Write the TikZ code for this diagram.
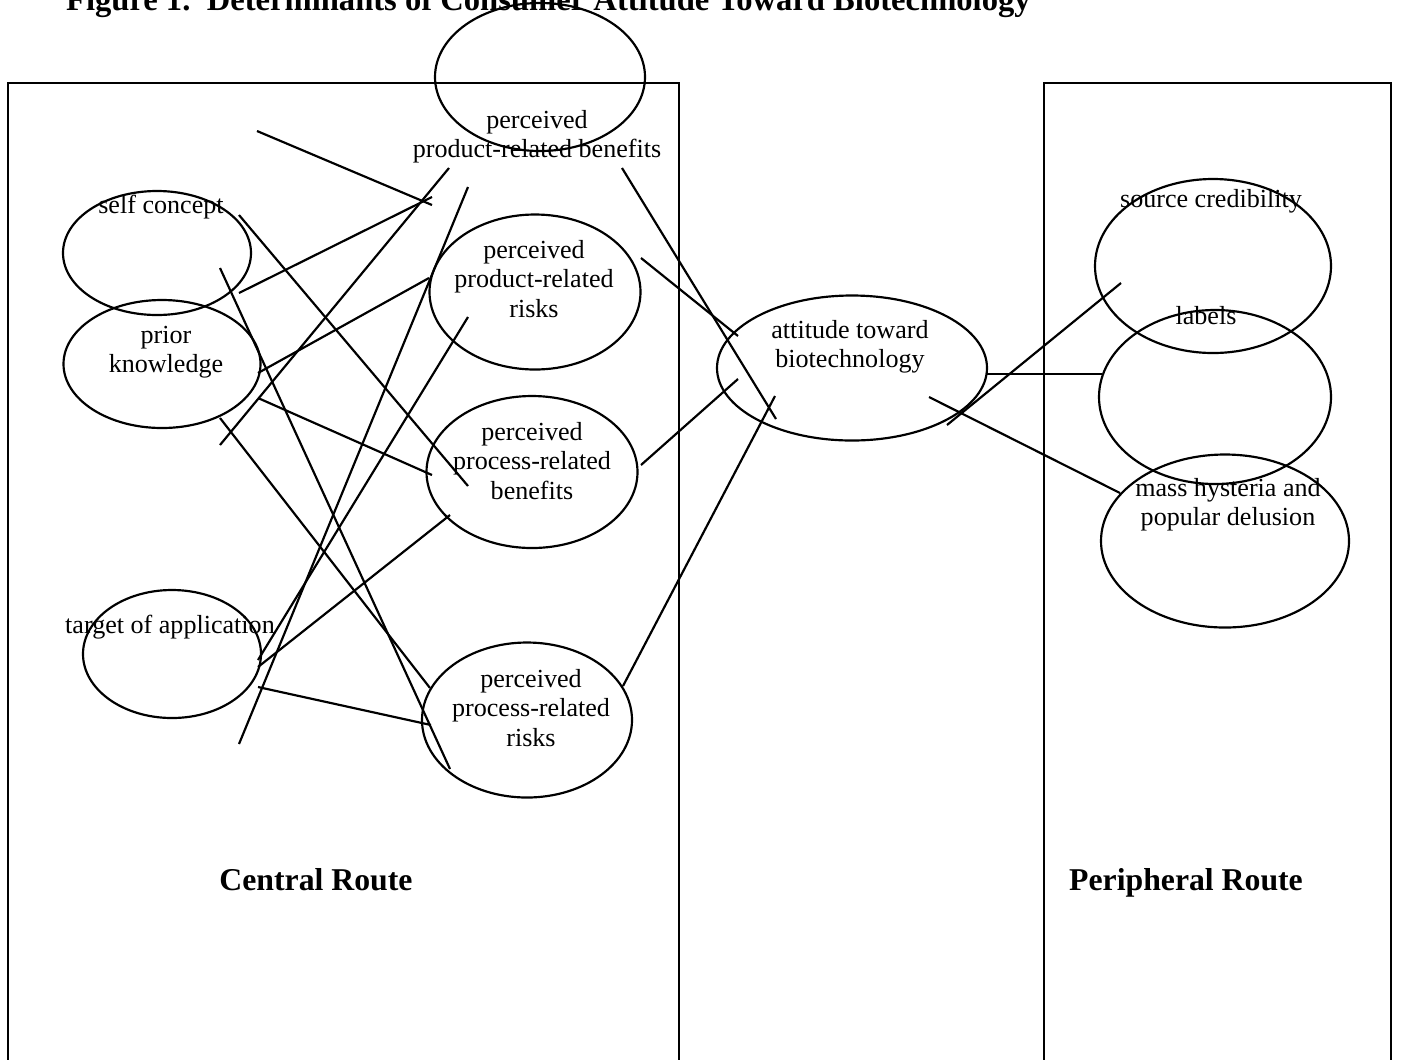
\documentclass[tikz,border=0pt]{standalone}
\usepackage{fontspec}
\setmainfont{Liberation Serif}
\usetikzlibrary{shapes.geometric}
\newcommand{\un}{0.46pt}
\tikzset{
  oval/.style 2 args={draw, ellipse, minimum width=#1*\un, minimum height=#2*\un, inner sep=0pt},
  txt/.style={align=center, font=\fontsize{12}{13.4}\selectfont, inner sep=0pt},
  head/.style={font=\fontsize{14.6}{16}\selectfont\bfseries, inner sep=0pt, anchor=base}
}

\begin{document}
\begin{tikzpicture}[x=\un, y=-\un, line width=1pt]
\useasboundingbox (0,0) rectangle (1401,1059);
\clip (0,0) rectangle (1401,1059);
\node[head, anchor=base west, font=\fontsize{15}{17}\selectfont\bfseries] (title) at (65,10) {Figure 1.\ \ Determinants of Consumer Attitude Toward Biotechnology};
% the two routes
\draw (8,1070) -- (8,83) -- (679,83) -- (679,1070);
\draw (1044,1070) -- (1044,83) -- (1391,83) -- (1391,1070);
\node[head] (central) at (316,890) {Central Route};
\node[head] (periph) at (1186,890) {Peripheral Route};
% ellipses
\node[oval={210}{148}] (pb) at (540,77) {};
\node[oval={188}{124}] (selfc) at (157,253) {};
\node[oval={197}{128}] (prior) at (162,364) {};
\node[oval={178}{128}] (ta) at (172,654) {};
\node[oval={211}{155}] (pr) at (535,292) {};
\node[oval={211}{152}] (pben) at (532,472) {};
\node[oval={210}{155}] (prisk) at (527,720) {};
\node[oval={270}{145}] (att) at (852,368) {};
\node[oval={236}{174}] (src) at (1213,266) {};
\node[oval={232}{174}] (lab) at (1215,397) {};
\node[oval={248}{173}] (mass) at (1225,541) {};
% texts
\node[txt] (pb-t) at (537,137) {perceived\\product-related benefits};
\node[txt] (selfc-t) at (161,207) {self concept};
\node[txt] (prior-t) at (166,352) {prior\\knowledge};
\node[txt] (ta-t) at (170,627) {target of application};
\node[txt] (pr-t) at (534,279) {perceived\\product-related\\risks};
\node[txt] (pben-t) at (532,461) {perceived\\process-related\\benefits};
\node[txt] (prisk-t) at (531,708) {perceived\\process-related\\risks};
\node[txt] (att-t) at (850,347) {attitude toward\\biotechnology};
\node[txt] (src-t) at (1211,201) {source credibility};
\node[txt] (lab-t) at (1206,316) {labels};
\node[txt] (mass-t) at (1228,505) {mass hysteria and\\popular delusion};
% line ends
\coordinate (f1) at (257,131);   \coordinate (pb-in1) at (432,205);
\coordinate (sc-o1) at (239,293); \coordinate (pb-in2) at (432,197);
\coordinate (sc-o2) at (239,215); \coordinate (pben-in1) at (468,486);
\coordinate (sc-o3) at (220,268); \coordinate (prisk-in1) at (450,769);
\coordinate (pb-o1) at (449,168); \coordinate (prior-in1) at (220,445);
\coordinate (pb-o2) at (468,187); \coordinate (f2) at (239,744);
\coordinate (pb-o3) at (622,168); \coordinate (att-in1) at (776,419);
\coordinate (pr-o1) at (641,258); \coordinate (att-in2) at (738,336);
\coordinate (pr-o2) at (468,317); \coordinate (ta-in1) at (258,660);
\coordinate (prior-o1) at (258,373); \coordinate (pr-in1) at (429,278);
\coordinate (prior-o2) at (258,398); \coordinate (pben-in2) at (432,475);
\coordinate (prior-o3) at (220,418); \coordinate (prisk-in2) at (430,688);
\coordinate (pben-o1) at (641,465); \coordinate (att-in3) at (738,379);
\coordinate (pben-o2) at (450,515); \coordinate (ta-in2) at (258,667);
\coordinate (ta-o1) at (258,687); \coordinate (prisk-in3) at (431,725);
\coordinate (prisk-o1) at (623,686); \coordinate (att-in4) at (775,396);
\coordinate (att-o1) at (987,374); \coordinate (lab-in) at (1102,374);
\coordinate (att-o2) at (929,397); \coordinate (mass-in) at (1120,493);
\coordinate (att-o3) at (947,425); \coordinate (src-in) at (1121,283);
\draw (f1) -- (pb-in1);
\draw (sc-o1) -- (pb-in2);
\draw (sc-o2) -- (pben-in1);
\draw (sc-o3) -- (prisk-in1);
\draw (pb-o1) -- (prior-in1);
\draw (pb-o2) -- (f2);
\draw (pb-o3) -- (att-in1);
\draw (pr-o1) -- (att-in2);
\draw (pr-o2) -- (ta-in1);
\draw (prior-o1) -- (pr-in1);
\draw (prior-o2) -- (pben-in2);
\draw (prior-o3) -- (prisk-in2);
\draw (pben-o1) -- (att-in3);
\draw (pben-o2) -- (ta-in2);
\draw (ta-o1) -- (prisk-in3);
\draw (prisk-o1) -- (att-in4);
\draw (att-o1) -- (lab-in);
\draw (att-o2) -- (mass-in);
\draw (att-o3) -- (src-in);
\end{tikzpicture}
\end{document}
